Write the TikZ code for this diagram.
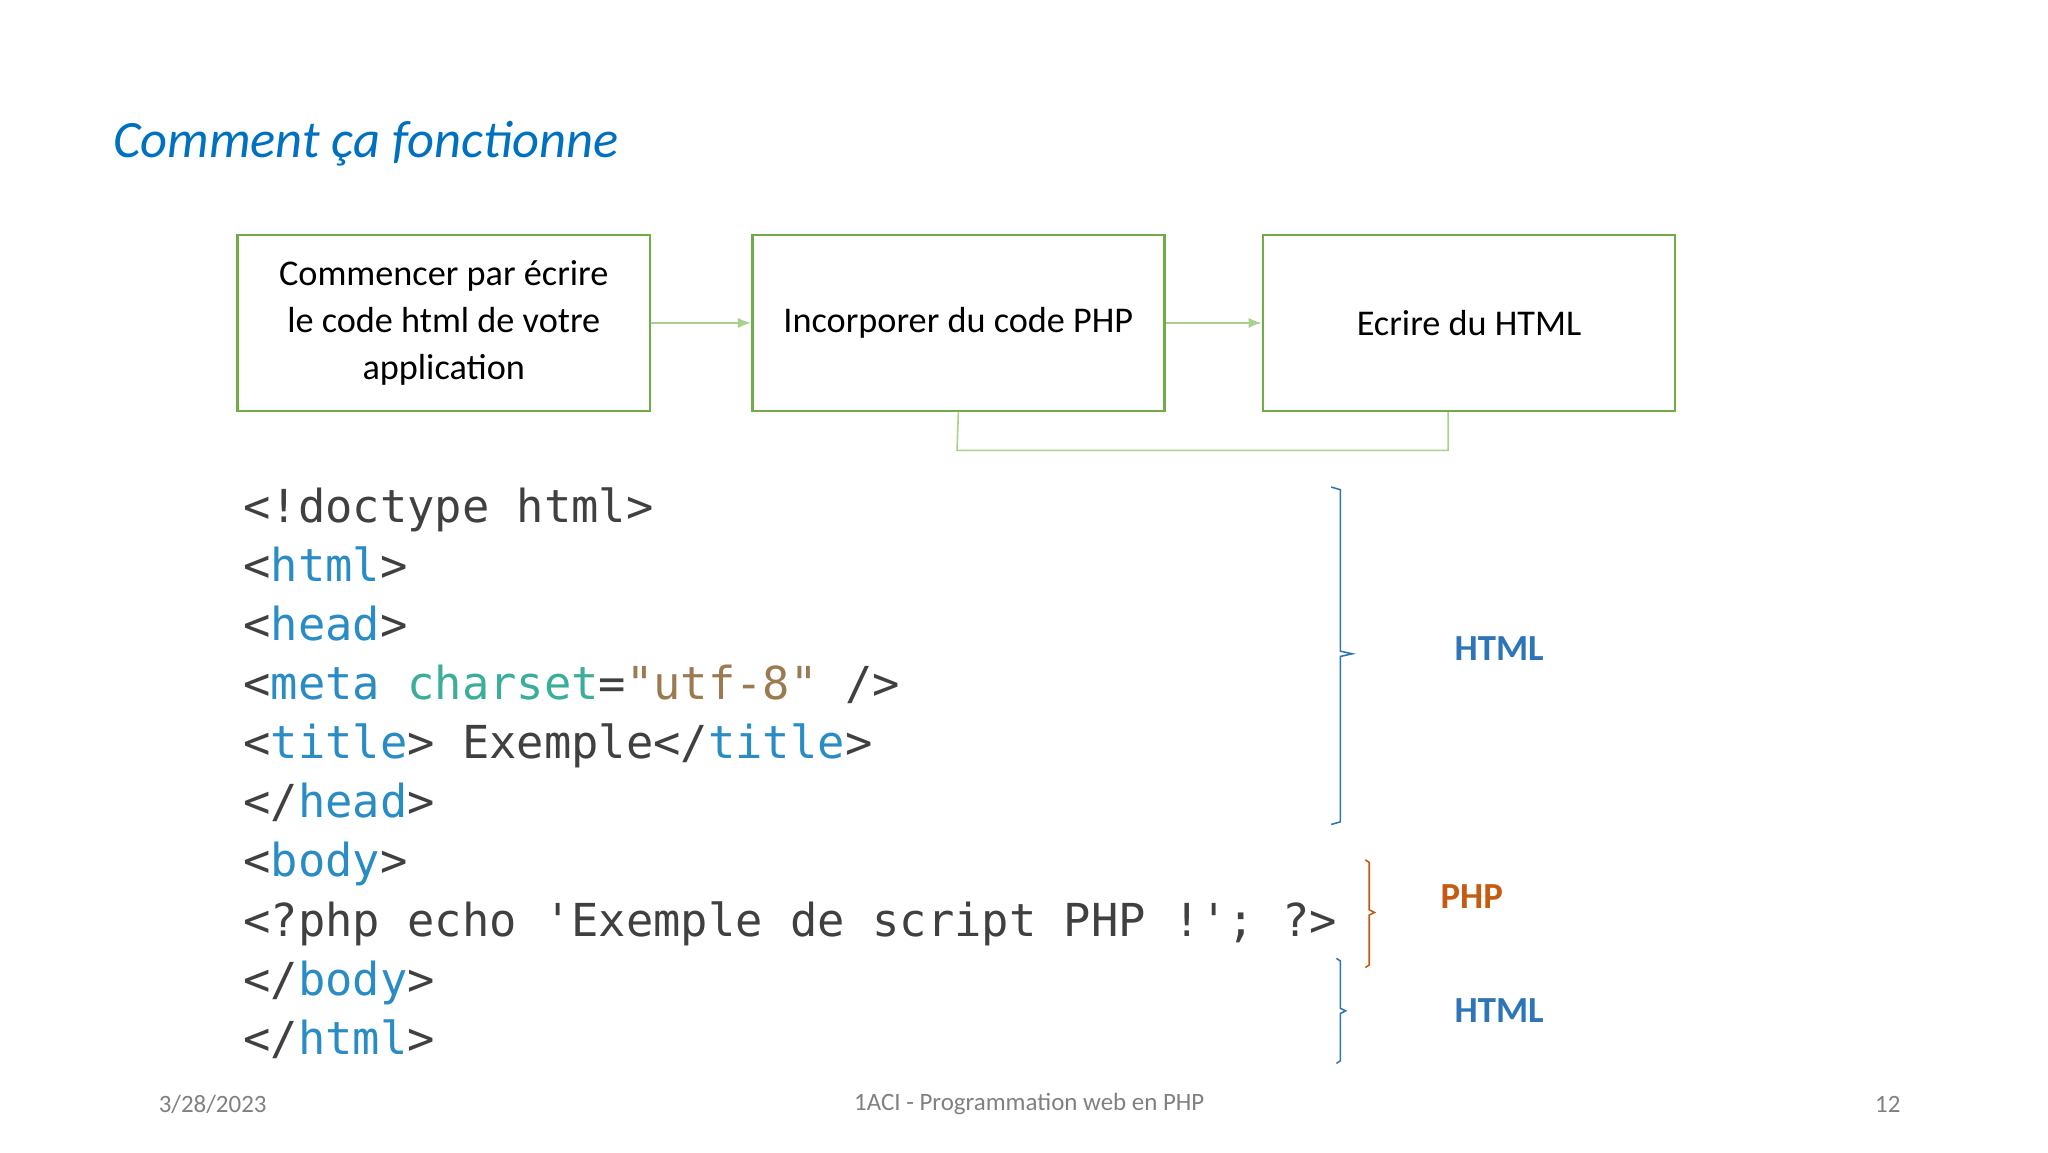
\documentclass[tikz,border=0pt]{standalone}
\usepackage{fontspec}
\setmainfont{Carlito}
\newfontfamily\codefont{DejaVu Sans Mono}
\usetikzlibrary{arrows.meta}
\definecolor{boxgreen}{HTML}{70AD47}
\definecolor{lgreen}{HTML}{A9D18E}
\definecolor{titleblue}{HTML}{0070C0}
\definecolor{hblue}{HTML}{2E75B6}
\definecolor{porange}{HTML}{C55A11}
\definecolor{tagc}{HTML}{2A8CC4}
\definecolor{attrc}{HTML}{3AAE9A}
\definecolor{strc}{HTML}{9B7A52}
\definecolor{punc}{HTML}{404040}
\begin{document}
\begin{tikzpicture}[x=0.5pt,y=-0.5pt,
  stepbox/.style={draw=boxgreen,line width=1pt,minimum width=157pt,minimum height=67pt,inner sep=0pt,align=center,font=\fontsize{13.8}{17.8}\selectfont,anchor=north west},
  flow/.style={draw=lgreen,line width=0.8pt,-{Latex[length=5pt,width=4pt]}},
  codeline/.style={anchor=base west,inner sep=0pt,font=\codefont\fontsize{17.3}{20}\selectfont,text=punc},
  lbl/.style={font=\bfseries\fontsize{14}{16}\selectfont,inner sep=0pt}]
\useasboundingbox (0,0) rectangle (1560,878);
\node[anchor=base west,inner sep=0pt,text=titleblue,font=\itshape\fontsize{20}{24}\selectfont] (title) at (86,120) {Comment ça fonctionne};
\node[stepbox] (b1) at (180,178) {Commencer par écrire\\le code html de votre\\application};
\node[stepbox] (b2) at (572,178) {Incorporer du code PHP};
\node[stepbox] (b3) at (961,178) {Ecrire du HTML};
\draw[flow] (b1.east) -- (b2.west);
\draw[flow] (b2.east) -- (b3.west);
\coordinate (c1) at (729,343);
\coordinate (c2) at (1103,343);
\draw[draw=lgreen,line width=0.6pt] (b2.south) -- (c1) -- (c2) -- (c2 |- b3.south);
\newcommand{\tg}[1]{\textcolor{tagc}{#1}}
\node[codeline] (l1) at (185,398) {<!doctype html>};
\node[codeline] (l2) at (185,443) {<\tg{html}>};
\node[codeline] (l3) at (185,488) {<\tg{head}>};
\node[codeline] (l4) at (185,533) {<\tg{meta} \textcolor{attrc}{charset}=\textcolor{strc}{"utf-8"} />};
\node[codeline] (l5) at (185,578) {<\tg{title}> Exemple</\tg{title}>};
\node[codeline] (l6) at (185,623) {</\tg{head}>};
\node[codeline] (l7) at (185,668) {<\tg{body}>};
\node[codeline] (l8) at (185,713) {<?php echo 'Exemple de script PHP !'; ?>};
\node[codeline] (l9) at (185,758) {</\tg{body}>};
\node[codeline] (l10) at (185,803) {</\tg{html}>};
\draw[hblue,line width=0.6pt] (1014,371) -- (1021,373) -- (1021,496) -- (1030,498) -- (1021,500) -- (1021,626) -- (1014,628);
\draw[porange,line width=0.6pt] (1040,655) -- (1043,657) -- (1043,693) -- (1047,695) -- (1043,697) -- (1043,735) -- (1040,737);
\draw[hblue,line width=0.6pt] (1018,730) -- (1021,732) -- (1021,768) -- (1025,770) -- (1021,772) -- (1021,808) -- (1018,810);
\node[lbl,text=hblue] (h1) at (1142,494) {HTML};
\node[lbl,text=porange] (p1) at (1121,683) {PHP};
\node[lbl,text=hblue] (h2) at (1142,770) {HTML};
\node[text=gray,font=\fontsize{9.5}{11}\selectfont,inner sep=0pt] (date) at (162,841) {3/28/2023};
\node[text=gray,font=\fontsize{9.5}{11}\selectfont,inner sep=0pt] (foot) at (784,841) {1ACI - Programmation web en PHP};
\node[text=gray,font=\fontsize{9.5}{11}\selectfont,inner sep=0pt] (num) at (1438,841) {12};
\end{tikzpicture}
\end{document}
